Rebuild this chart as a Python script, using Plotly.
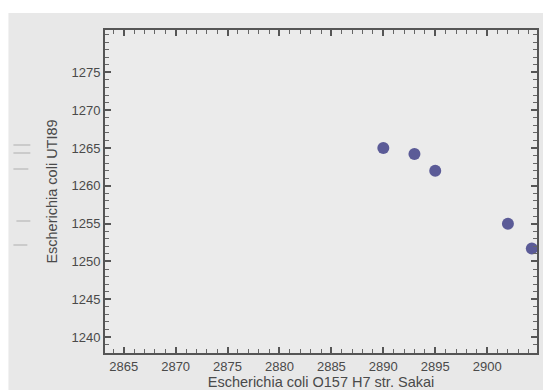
import plotly.graph_objects as go

# Data
x_vals = [2890, 2893, 2895, 2902, 2904.3]
y_vals = [1265, 1264.2, 1262, 1255, 1251.7]
x_title = "Escherichia coli O157 H7 str. Sakai"
y_title = "Escherichia coli UTI89"
x_ticks = [2865, 2870, 2875, 2880, 2885, 2890, 2895, 2900]
y_ticks = [1240, 1245, 1250, 1255, 1260, 1265, 1270, 1275]

W, H = 543, 390
L, R, T, B = 105, 4, 30, 37
pw, ph = W - L - R, H - T - B

def px_x(px):
    return (px - L) / pw

def px_y(py):
    return 1 - (py - T) / ph

fig = go.Figure()
fig.add_trace(go.Scatter(
    x=x_vals, y=y_vals, mode="markers",
    marker=dict(size=12, color="#5b5b97", line=dict(width=0)),
    cliponaxis=True, showlegend=False,
))

FONT = "Liberation Sans, Arial, sans-serif"
axis_common = dict(
    showgrid=False, zeroline=False,
    showline=True, linecolor="#555555", linewidth=2, mirror="ticks",
    ticks="inside", ticklen=6, tickwidth=1.5, tickcolor="#555555",
    tickfont=dict(family=FONT, size=13, color="#4a4a4a"),
    title_font=dict(family=FONT, size=14.5, color="#4a4a4a"),
    tickmode="array",
)

fig.update_xaxes(
    range=[2863.2, 2904.8], tickvals=x_ticks, ticktext=[str(v) for v in x_ticks],
    title_text=x_title, title_standoff=0,
    minor=dict(ticks="inside", tickmode="linear", tick0=x_ticks[0], dtick=1,
               ticklen=4, tickcolor="#666666", tickwidth=1.2),
    **axis_common,
)
fig.update_yaxes(
    range=[1237.9, 1280.6], tickvals=y_ticks, ticktext=[str(v) for v in y_ticks],
    title_text=y_title, title_standoff=10,
    minor=dict(ticks="inside", tickmode="linear", tick0=y_ticks[0], dtick=1,
               ticklen=4, tickcolor="#666666", tickwidth=1.2),
    **axis_common,
)

shapes = [
    dict(type="rect", xref="paper", yref="paper", layer="below",
         x0=px_x(-5), x1=px_x(W + 5), y0=px_y(13), y1=px_y(-5),
         fillcolor="white", line=dict(width=0)),
    dict(type="rect", xref="paper", yref="paper", layer="below",
         x0=px_x(-5), x1=px_x(8), y0=px_y(H + 5), y1=px_y(-5),
         fillcolor="white", line=dict(width=0)),
]
for (xa, xb, yy) in [(13, 30, 145), (13, 30, 153), (13, 28, 169), (16, 30, 221), (13, 27, 245)]:
    shapes.append(dict(type="line", xref="paper", yref="paper",
                       x0=px_x(xa), x1=px_x(xb), y0=px_y(yy), y1=px_y(yy),
                       line=dict(color="#b8b8b8", width=1.2)))

fig.update_layout(
    width=W, height=H, margin=dict(l=L, r=R, t=T, b=B, pad=0),
    paper_bgcolor="#e8e8e8", plot_bgcolor="#ebebeb",
    shapes=shapes,
)

fig.write_html("out.html")
